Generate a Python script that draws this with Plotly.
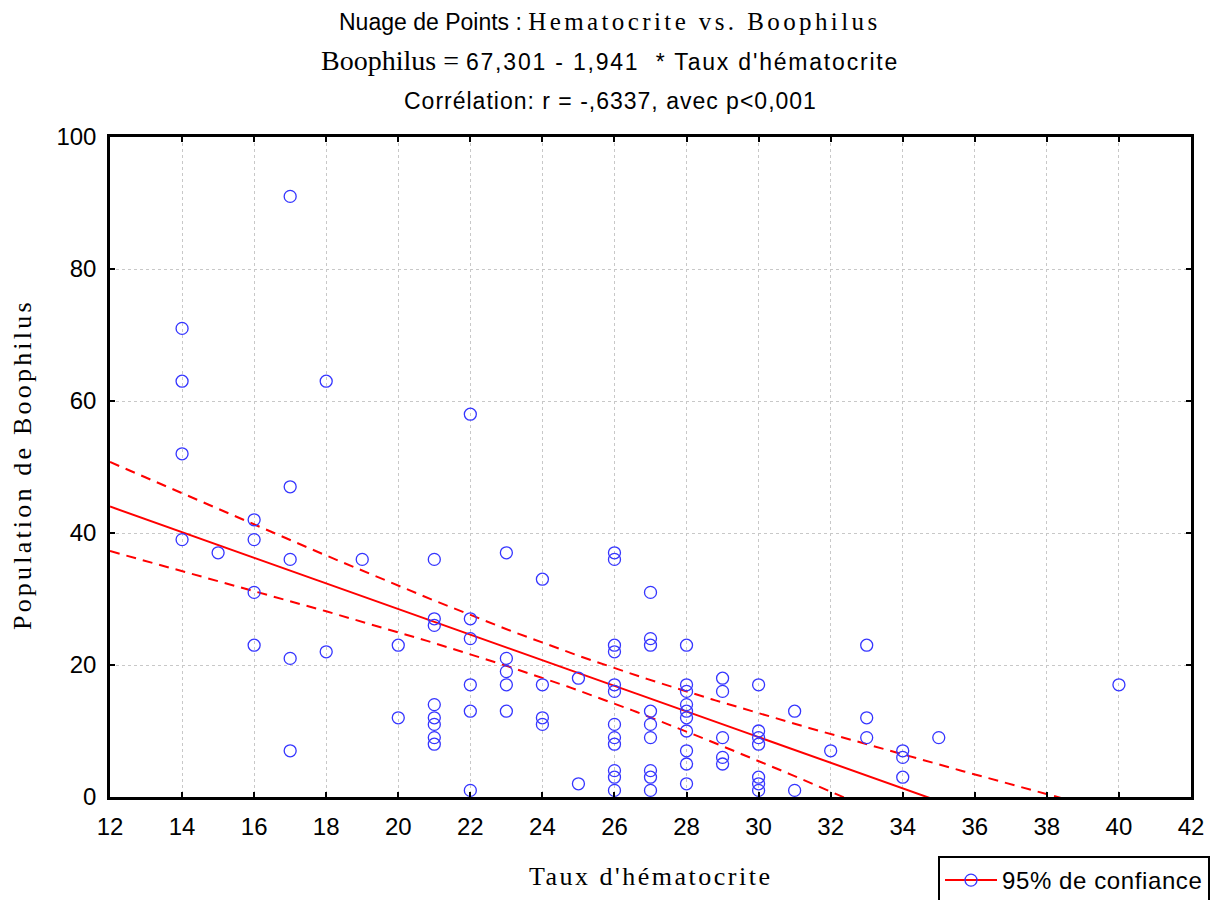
import numpy as np
import plotly.graph_objects as go

# Data (hematocrit %, Boophilus count)
hematocrite = (
    [14] * 4 + [15] + [16] * 4 + [17] * 5 + [18] * 2 + [19] + [20] * 2 + [21] * 8 +
    [22] * 6 + [23] * 5 + [24] * 4 + [25] * 2 + [26] * 12 + [27] * 9 + [28] * 10 +
    [29] * 5 + [30] * 7 + [31] * 2 + [32] + [33] * 3 + [34] * 3 + [35] + [40]
)
boophilus = (
    [71, 63, 52, 39] + [37] + [42, 39, 31, 23] + [91, 47, 36, 21, 7] + [63, 22] + [36] +
    [23, 12] + [36, 27, 26, 14, 12, 11, 9, 8] + [58, 27, 24, 17, 13, 1] +
    [37, 21, 19, 17, 13] + [33, 17, 12, 11] + [18, 2] +
    [37, 36, 23, 22, 17, 16, 11, 9, 8, 4, 3, 1] + [31, 24, 23, 13, 11, 9, 4, 3, 1] +
    [23, 17, 16, 14, 13, 12, 10, 7, 5, 2] + [18, 16, 9, 6, 5] +
    [17, 10, 9, 8, 3, 2, 1] + [13, 1] + [7] + [23, 12, 9] + [7, 6, 3] + [9] + [17]
)
INTERCEPT = 67.301
SLOPE = -1.941
T_CRIT = 1.985
x_ticks = [12, 14, 16, 18, 20, 22, 24, 26, 28, 30, 32, 34, 36, 38, 40, 42]
y_ticks = [0, 20, 40, 60, 80, 100]

x = np.array(hematocrite, dtype=float)
y = np.array(boophilus, dtype=float)
n = len(x)
resid = y - (INTERCEPT + SLOPE * x)
s = np.sqrt(np.sum(resid ** 2) / (n - 2))
xm = x.mean()
sxx = np.sum((x - xm) ** 2)

xg = np.linspace(12, 42, 301)
yfit = INTERCEPT + SLOPE * xg
half = T_CRIT * s * np.sqrt(1.0 / n + (xg - xm) ** 2 / sxx)

RED = "#ff0000"
BLUE = "#3535ff"

fig = go.Figure()
fig.add_trace(go.Scatter(x=xg, y=yfit, mode="lines", line=dict(color=RED, width=2),
                         showlegend=False, hoverinfo="skip"))
fig.add_trace(go.Scatter(x=xg, y=yfit + half, mode="lines",
                         line=dict(color=RED, width=2, dash="10px,7px"),
                         showlegend=False, hoverinfo="skip"))
fig.add_trace(go.Scatter(x=xg, y=yfit - half, mode="lines",
                         line=dict(color=RED, width=2, dash="10px,7px"),
                         showlegend=False, hoverinfo="skip"))
fig.add_trace(go.Scatter(x=x, y=y, mode="markers", cliponaxis=False,
                         marker=dict(symbol="circle-open", size=12, color=BLUE,
                                     line=dict(width=1.3, color=BLUE)),
                         showlegend=False))
# legend entry
fig.add_trace(go.Scatter(x=[None], y=[None], mode="lines+markers",
                         name="<span style='letter-spacing:0.6px'>95% de confiance</span>",
                         line=dict(color=RED, width=2),
                         marker=dict(symbol="circle-open", size=12, color=BLUE,
                                     line=dict(width=1.3, color=BLUE))))

SANS = "Liberation Sans, Arial, sans-serif"
SERIF = "Liberation Serif, Times New Roman, serif"

axis_common = dict(
    showline=True, linecolor="black", linewidth=2.5, mirror="ticks",
    ticks="inside", ticklen=5, tickwidth=2, tickcolor="black",
    showgrid=True, gridcolor="#c8c8c8", gridwidth=1, griddash="dot",
    zeroline=False, tickfont=dict(family=SANS, size=24, color="black"),
)

fig.update_layout(
    width=1223, height=900,
    paper_bgcolor="white", plot_bgcolor="white",
    margin=dict(l=102, r=40, t=129, b=111, autoexpand=False),
    xaxis=dict(range=[12, 42], tickvals=x_ticks, ticklabelstandoff=6, **axis_common),
    yaxis=dict(range=[0, 100], tickvals=y_ticks, ticklabelstandoff=6, **axis_common),
    showlegend=True,
    legend=dict(x=(938 - 110) / 1081, y=-(856 - 797) / 660, xanchor="left", yanchor="top",
                xref="paper", yref="paper",
                bordercolor="black", borderwidth=2, bgcolor="white",
                font=dict(family=SANS, size=24, color="black"),
                itemwidth=52, tracegroupgap=0),
)

title_lines = [
    (f"<span style='font-family:{SANS}'>Nuage de Points : </span>"
     f"<span style='font-family:{SERIF};font-size:25px;letter-spacing:3.4px'>Hematocrite vs. Boophilus</span>", 22),
    (f"<span style='font-family:{SERIF};font-size:28px'>Boophilus = </span>"
     f"<span style='font-family:{SANS};letter-spacing:1.8px'>67,301 - 1,941  * Taux d'hématocrite</span>", 61),
    (f"<span style='font-family:{SANS};letter-spacing:1px'>Corrélation: r = -,6337, avec p&lt;0,001</span>", 101),
]
for txt, ypx in title_lines:
    fig.add_annotation(text=txt, xref="paper", yref="paper", x=(610 - 110) / 1081,
                       y=1 + (137 - ypx) / 660, xanchor="center", yanchor="middle",
                       showarrow=False, borderpad=0,
                       font=dict(family=SANS, size=23, color="black"))

fig.add_annotation(text="<span style='letter-spacing:2.5px'>Taux d'hématocrite</span>",
                   xref="paper", yref="paper", x=(651 - 110) / 1081,
                   y=-(876 - 797) / 660, xanchor="center", yanchor="middle", showarrow=False,
                   font=dict(family=SERIF, size=26, color="black"))
fig.add_annotation(text="<span style='letter-spacing:3.2px'>Population de Boophilus</span>",
                   xref="paper", yref="paper",
                   x=-(110 - 22) / 1081, y=(797 - 465) / 660, xanchor="center", yanchor="middle",
                   textangle=-90, showarrow=False,
                   font=dict(family=SERIF, size=26, color="black"))

fig.write_html("out.html")
